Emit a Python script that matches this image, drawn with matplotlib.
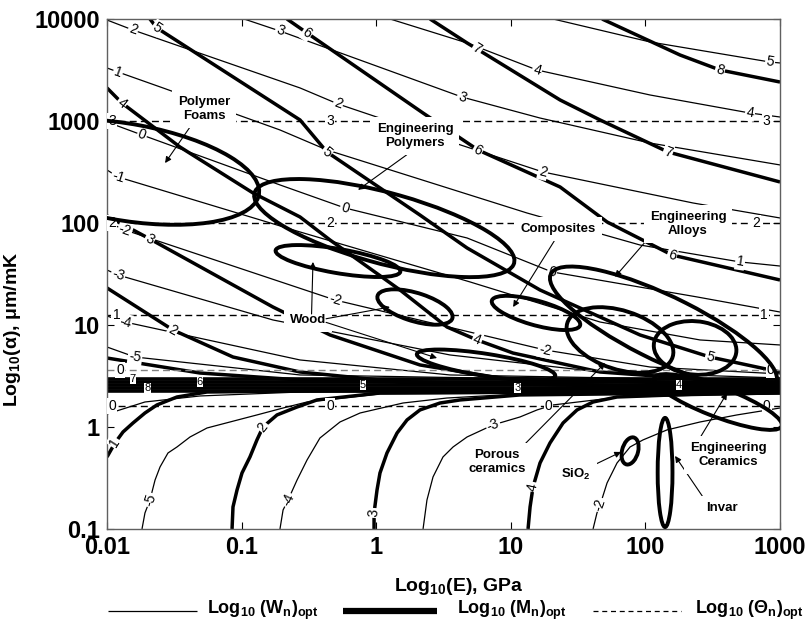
import numpy as np
import matplotlib
matplotlib.use('Agg')
import matplotlib.pyplot as plt
from matplotlib.lines import Line2D
from matplotlib.patches import Ellipse

plt.rcParams['font.family'] = 'Liberation Sans'
plt.rcParams['mathtext.fontset'] = 'custom'
plt.rcParams['mathtext.rm'] = 'Liberation Sans'
plt.rcParams['mathtext.bf'] = 'Liberation Sans:bold'
plt.rcParams['mathtext.it'] = 'Liberation Sans:italic'

# contour traces: (level, log10 E [GPa], log10 alpha [um/mK], label vertices)
w_upper = [
    (2, [-2.0, -1.807, -0.566, -0.284, 0.400, 1.239, 2.354, 3.0],
        [3.990, 3.892, 3.324, 3.167, 2.863, 2.500, 2.196, 2.049], [1, 3, 5]),
    (3, [-0.982, -0.715, 0.637, 1.217, 2.034, 3.0],
        [4.0, 3.882, 3.235, 3.029, 2.784, 2.569], [1, 2]),
    (4, [0.103, 0.675, 1.195, 2.034, 2.777, 3.0],
        [4.0, 3.765, 3.5, 3.255, 3.078, 3.039], [2, 4]),
    (5, [1.314, 2.034, 2.926, 3.0],
        [4.0, 3.775, 3.578, 3.569], [2]),
    (1, [-2.0, -1.918, -1.584, -0.715, -0.366, 1.120, 1.960, 2.703, 3.0],
        [3.520, 3.480, 3.324, 2.912, 2.716, 2.098, 1.784, 1.618, 1.578], [1, 7]),
    (0, [-2.0, -1.740, -0.715, -0.232, 0.675, 1.306, 2.383, 3.0],
        [2.990, 2.863, 2.373, 2.147, 1.853, 1.520, 1.275, 1.127], [1, 3, 5]),
    (-1, [-2.0, -1.918, -0.566, 0.697, 1.663, 2.406, 3.0],
         [2.520, 2.451, 1.912, 1.422, 1.029, 0.853, 0.804], [1]),
    (-2, [-2.0, -1.866, -0.306, 1.254, 2.034, 3.0],
         [2.010, 1.931, 1.245, 0.755, 0.588, 0.520], [1, 2, 3]),
    (-3, [-2.0, -1.918, -0.767, 0.548, 1.663, 3.0],
         [1.539, 1.490, 1.049, 0.706, 0.539, 0.480], [1]),
    (-4, [-2.0, -1.866, -0.566, 0.548, 3.0],
         [1.088, 1.029, 0.657, 0.510, 0.451], [1]),
    (-5, [-2.0, -1.792, -0.566, 3.0],
         [0.784, 0.686, 0.510, 0.431], [1]),
]

w_lower = [
    (-5, [-1.740, -1.718, -1.681, -1.643, -1.606, -1.547, -1.480, -1.383, -1.257,
          -1.086, -0.886, -0.692, -0.514, 0.028, 3.0],
         [-1.0, -0.843, -0.716, -0.520, -0.392, -0.255, -0.196, -0.098, -0.010,
          0.049, 0.118, 0.186, 0.245, 0.324, 0.343], [2]),
    (-4, [-0.715, -0.692, -0.655, -0.588, -0.514, -0.418, -0.269, -0.120, 0.199,
          0.526, 1.068, 3.0],
         [-1.0, -0.814, -0.716, -0.520, -0.324, -0.108, 0.049, 0.137, 0.235,
          0.284, 0.324, 0.333], [2]),
    (-3, [0.348, 0.377, 0.422, 0.496, 0.571, 0.675, 0.868, 1.068, 1.195, 1.314,
          1.811, 3.0],
         [-1.0, -0.716, -0.490, -0.294, -0.196, -0.098, 0.020, 0.098, 0.167, 0.216,
          0.294, 0.324], [6]),
    (-2, [1.611, 1.640, 1.663, 1.715, 1.789, 1.886, 1.982, 2.160, 2.406, 2.680, 3.0],
         [-1.0, -0.843, -0.765, -0.549, -0.353, -0.196, -0.127, -0.029, 0.049,
          0.118, 0.186], [2]),
    (0, [-2.0, -1.718, -1.309, -0.566, 3.0],
        [0.127, 0.245, 0.304, 0.343, 0.353], []),
]

m_upper = [
    (8, [1.678, 2.257, 2.554, 3.0], [4.0, 3.647, 3.5, 3.382], [2]),
    (7, [0.400, 0.675, 0.749, 1.366, 1.663, 2.168, 3.0],
        [4.0, 3.765, 3.706, 3.206, 3.010, 2.696, 2.402], [2, 5]),
    (6, [-0.663, -0.514, 0.348, 0.756, 1.366, 1.715, 2.198, 3.0],
        [4.0, 3.863, 3.078, 2.716, 2.353, 2.010, 1.686, 1.441], [1, 3, 6]),
    (5, [-1.681, -1.629, -0.566, -0.366, 0.325, 0.675, 1.217, 1.960, 2.480, 3.0],
        [4.0, 3.912, 3.010, 2.696, 2.078, 1.755, 1.343, 0.902, 0.686, 0.539], [1, 3, 8]),
    (4, [-2.0, -1.889, -1.458, -0.915, -0.566, -0.343, 0.177, 0.526, 0.749, 1.016, 1.663, 3.0],
        [3.324, 3.176, 2.745, 2.294, 2.059, 1.833, 1.343, 0.980, 0.853, 0.725, 0.539, 0.412], [1, 8]),
    (3, [-2.0, -1.681, -0.767, -0.343, 0.325, 0.920, 3.0],
        [2.069, 1.843, 1.176, 0.902, 0.608, 0.480, 0.402], [1]),
    (2, [-2.0, -1.510, -1.064, -0.566, 0.177, 3.0],
        [1.363, 0.951, 0.686, 0.539, 0.441, 0.382], [1]),
    (1, [-2.0, -1.309, -0.566, 3.0], [0.676, 0.529, 0.461, 0.373], []),
]

m_lower = [
    (1, [-2.0, -1.941, -1.881, -1.807, -1.718, -1.629, -1.480, -1.257, 0.177, 3.0],
        [-0.294, -0.157, -0.049, 0.039, 0.137, 0.216, 0.294, 0.343, 0.363, 0.363], [1]),
    (2, [-1.071, -1.064, -1.034, -0.997, -0.938, -0.886, -0.841, -0.737, -0.588,
         -0.440, 0.028, 3.0],
        [-1.0, -0.784, -0.618, -0.451, -0.294, -0.127, 0.0, 0.118, 0.196, 0.265,
         0.333, 0.353], [6]),
    (3, [-0.016, -0.016, 0.006, 0.028, 0.080, 0.155, 0.229, 0.325, 0.474, 0.623,
         1.068, 3.0],
        [-1.0, -0.843, -0.618, -0.451, -0.255, -0.059, 0.069, 0.167, 0.235, 0.265,
         0.314, 0.343], [1]),
    (4, [1.128, 1.143, 1.165, 1.217, 1.291, 1.388, 1.492, 1.611, 1.789, 2.406, 3.0],
        [-1.0, -0.784, -0.588, -0.353, -0.157, 0.039, 0.167, 0.245, 0.294, 0.324,
         0.333], [2]),
]

# tightly packed M contours around the substrate expansion
band_logA = [0.471, 0.441, 0.412, 0.382, 0.353]
band_labels = [('7', -1.81, 0.471), ('8', -1.70, 0.382), ('6', -1.31, 0.441),
               ('5', -0.10, 0.412), ('3', 1.05, 0.382), ('4', 2.25, 0.412)]

# dashed Theta contours (horizontal)
theta_alpha = [1000, 100, 12.6, 3.6, 1.6]
theta_level = [3, 2, 1, 0, 0]
theta_label_logE = [[-1.96, -0.34, 2.90], [-1.96, -0.34, 2.82], [-1.93, 2.88],
                    [-1.90, 2.93], [-1.96, -0.34, 1.28, 2.90]]

# material bubbles: log10 E centre, log10 alpha centre, width, height, angle
bubbles = {
    'Polymer Foams': (-1.866, 2.50, 2.04, 0.94, -13.9),
    'Engineering Polymers': (0.06, 1.95, 2.05, 0.68, -20.6),
    'Wood 1': (-0.284, 1.627, 0.95, 0.235, -13.0),
    'Wood 2': (0.288, 1.176, 0.60, 0.27, -24.0),
    'Wood 3': (0.816, 0.608, 1.05, 0.216, -11.9),
    'Composites': (1.187, 1.118, 0.70, 0.235, -21.3),
    'Engineering Alloys': (2.134, 0.966, 1.99, 0.60, -33.8),
    'Engineering Ceramics': (2.539, 0.245, 1.06, 0.28, -27.4),
    'Porous ceramics': (1.811, 0.853, 0.86, 0.55, -30.2),
    'Alloys 2': (2.369, 0.775, 0.62, 0.52, -15.0),
    'SiO2': (1.886, -0.235, 0.12, 0.27, -10.0),
    'Invar': (2.146, -0.446, 0.11, 1.07, 0.0),
}

# annotations: text, text position (E, alpha), arrow tip (E, alpha), arrow start on text box
notes = [
    ('Polymer\nFoams', (0.0526, 1312), (0.027, 387), (0.3, 0.0)),
    ('Engineering\nPolymers', (1.94, 713), (0.733, 211), (0.5, 0.0)),
    ('Composites', (22.4, 87.3), (10.4, 15.0), (0.5, 0.0)),
    ('Engineering\nAlloys', (207, 97.8), (59.4, 29.6), (0.0, 0.0)),
    ('Porous\nceramics', (7.89, 0.454), (50.1, 4.24), (0.9, 1.0)),
    ('SiO$_\\mathbf{2}$', (30.5, 0.346), (65.9, 0.569), (1.0, 1.0)),
    ('Invar', (371, 0.161), (166, 0.52), (0.0, 1.0)),
    ('Engineering\nCeramics', (411, 0.531), (404, 2.15), (0.1, 1.0)),
]
wood_pos = (0.311, 11.2)
wood_tips = [((0.339, 41.5), (0.6, 1.0)), ((1.265, 15.0), (1.0, 0.6)),
             ((2.83, 4.74), (1.0, 0.3))]

legend_names = ['Log$_{\\mathbf{10}}$ (W$_{\\mathbf{n}}$)$_{\\mathbf{opt}}$',
                'Log$_{\\mathbf{10}}$ (M$_{\\mathbf{n}}$)$_{\\mathbf{opt}}$',
                'Log$_{\\mathbf{10}}$ (Θ$_{\\mathbf{n}}$)$_{\\mathbf{opt}}$']

fig = plt.figure(figsize=(8.1, 6.31), dpi=100)
ax = fig.add_axes([0.1321, 0.1617, 0.8309, 0.8082])
ax.set_xscale('log')
ax.set_yscale('log')
ax.set_xlim(0.01, 1000)
ax.set_ylim(0.1, 10000)

label_box = dict(boxstyle='square,pad=0.08', fc='white', ec='none')


def rot_at(x, y, k):
    i0, i1 = max(k - 1, 0), min(k + 1, len(x) - 1)
    p0 = ax.transData.transform((x[i0], y[i0]))
    p1 = ax.transData.transform((x[i1], y[i1]))
    ang = np.degrees(np.arctan2(p1[1] - p0[1], p1[0] - p0[0]))
    if ang > 90:
        ang -= 180
    if ang < -90:
        ang += 180
    return ang


def draw_family(lines, lw):
    for level, le, la, labs in lines:
        x = 10 ** np.array(le)
        y = 10 ** np.array(la)
        ax.plot(x, y, color='black', lw=lw, solid_capstyle='butt',
                solid_joinstyle='round', zorder=2)
        for k in labs:
            ax.text(x[k], y[k], str(level), rotation=rot_at(x, y, k),
                    ha='center', va='center', fontsize=10, zorder=3,
                    rotation_mode='anchor', bbox=label_box, clip_on=True)


draw_family(w_upper, 0.9)
draw_family(w_lower, 0.9)
draw_family(m_upper, 2.5)
draw_family(m_lower, 2.5)

for la in band_logA:
    ax.plot([0.01, 1000], [10 ** la, 10 ** la], color='black', lw=2.6, zorder=2)
for txt, le, la in band_labels:
    ax.text(10 ** le, 10 ** la, txt, ha='center', va='center', fontsize=8,
            zorder=3, clip_on=True,
            bbox=dict(boxstyle='square,pad=0.0', fc='white', ec='none'))

for a, lev, pos in zip(theta_alpha, theta_level, theta_label_logE):
    col = '#808080' if lev == 0 and a > 3 else 'black'
    ax.plot([0.01, 1000], [a, a], color=col, lw=1.0, dashes=(5, 3), zorder=2)
    for le in pos:
        ax.text(10 ** le, a, str(lev), ha='center', va='center', fontsize=10,
                zorder=3, bbox=label_box, clip_on=True)

# bubbles are laid out in log10 units
tlog = ax.transLimits + ax.transAxes
for name, (cx, cy, w, h, ang) in bubbles.items():
    ax.add_patch(Ellipse((cx, cy), w, h, angle=ang, transform=tlog,
                         fill=False, ec='black', lw=2.8, zorder=6))

arrow = dict(arrowstyle='-|>', color='black', lw=0.8, mutation_scale=9,
             shrinkA=0, shrinkB=0)
text_box = dict(boxstyle='square,pad=0.45', fc='white', ec='none')
for txt, pos, tip, rel in notes:
    ax.annotate(txt, xy=tip, xytext=pos, ha='center', va='center',
                fontsize=9.5, fontweight='bold', zorder=5, bbox=text_box,
                arrowprops=dict(arrow, relpos=rel))

wood = ax.text(*wood_pos, 'Wood', ha='center', va='center', fontsize=9.5,
               fontweight='bold', zorder=5, bbox=text_box)
for tip, rel in wood_tips:
    ax.annotate('', xy=tip, xytext=rel, textcoords=wood, zorder=5,
                arrowprops=arrow)

ax.set_xticks([0.01, 0.1, 1, 10, 100, 1000],
              ['0.01', '0.1', '1', '10', '100', '1000'],
              fontsize=17, fontweight='bold')
ax.set_yticks([0.1, 1, 10, 100, 1000, 10000],
              ['0.1', '1', '10', '100', '1000', '10000'],
              fontsize=17, fontweight='bold')
ax.minorticks_off()
ax.tick_params(direction='in', top=True, right=True, length=5, width=0.8, pad=5)
for s in ax.spines.values():
    s.set_color('#606060')
    s.set_linewidth(1.0)

ax.set_xlabel('Log$_{\\mathbf{10}}$(E), GPa', fontsize=14, fontweight='bold')
ax.set_ylabel('Log$_{\\mathbf{10}}$(α), μm/mK', fontsize=14, fontweight='bold')
ax.xaxis.set_label_coords(0.523, -0.092)
ax.yaxis.set_label_coords(-0.125, 0.392)

# key below the axes: sample line, then its name
key_y = 0.032
key_styles = [dict(lw=0.9), dict(lw=4.5), dict(lw=0.9, dashes=(4, 3))]
key_x = [(0.1333, 0.2432, 0.2556), (0.4235, 0.5395, 0.5642),
         (0.7321, 0.8407, 0.8580)]
for (x0, x1, xt), style, name in zip(key_x, key_styles, legend_names):
    fig.add_artist(Line2D([x0, x1], [key_y, key_y], color='black',
                          solid_capstyle='butt', transform=fig.transFigure,
                          **style))
    fig.text(xt, key_y, name, ha='left', va='center', fontsize=13,
             fontweight='bold')

fig.savefig('out.png', dpi=100)
